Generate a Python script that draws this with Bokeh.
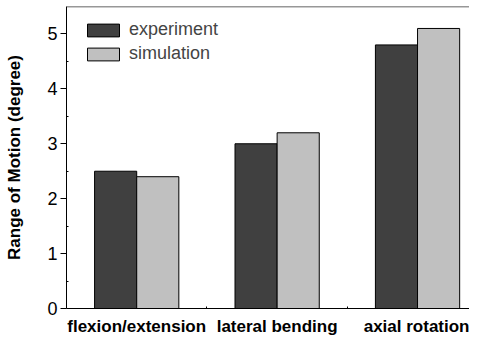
from bokeh.plotting import figure
from bokeh.models import FixedTicker, Span, Legend, LegendItem, ColumnDataSource, Range1d
from bokeh.embed import file_html
from bokeh.resources import INLINE

categories = ["flexion/extension", "lateral bending", "axial rotation"]
experiment = [2.5, 3.0, 4.8]
simulation = [2.4, 3.2, 5.1]
series_names = ["experiment", "simulation"]
y_ticks = [0, 1, 2, 3, 4, 5]

xpos = [i + 1 for i in range(len(categories))]
bw = 0.3

src = ColumnDataSource(dict(
    x_exp=[x - bw / 2 for x in xpos],
    x_sim=[x + bw / 2 for x in xpos],
    exp=experiment, sim=simulation))

p = figure(width=469, height=338, output_backend="svg", toolbar_location=None,
           x_range=Range1d(0.5, 3.37), y_range=Range1d(0, 5.5),
           min_border_left=66, min_border_right=0, min_border_top=6, min_border_bottom=0)
p.outline_line_color = None
p.grid.visible = False
p.background_fill_color = "white"
p.border_fill_color = "white"

r1 = p.vbar(x="x_exp", top="exp", width=bw, source=src, fill_color="#404040", line_color="black", line_width=1)
r2 = p.vbar(x="x_sim", top="sim", width=bw, source=src, fill_color="#c0c0c0", line_color="black", line_width=1)

p.add_layout(Span(location=5.5, dimension="width", line_color="#303030", line_width=1.5))

font = "Liberation Sans"
yax = p.yaxis[0]
yax.ticker = FixedTicker(ticks=y_ticks, minor_ticks=[0.5 + i for i in range(5)])
yax.major_tick_out = 6
yax.major_tick_in = 0
yax.minor_tick_in = 2
yax.minor_tick_out = 0
yax.major_label_standoff = 3
yax.major_label_text_font = font
yax.major_label_text_font_size = "18px"
yax.major_label_text_color = "black"
yax.axis_label = "Range of Motion (degree)"
yax.axis_label_text_font = font
yax.axis_label_text_font_style = "bold"
yax.axis_label_text_font_size = "17px"
yax.axis_label_standoff = 20
yax.axis_label_text_color = "black"
yax.axis_line_color = "black"
yax.major_tick_line_color = "black"
yax.minor_tick_line_color = "black"

xax = p.xaxis[0]
xax.ticker = FixedTicker(ticks=xpos, minor_ticks=[1.5, 2.5, 3.5])
xax.major_label_overrides = {x: c for x, c in zip(xpos, categories)}
xax.major_tick_out = 0
xax.major_tick_in = 0
xax.minor_tick_in = 2
xax.minor_tick_out = 0
xax.major_label_standoff = 8
xax.major_label_text_font = font
xax.major_label_text_font_style = "bold"
xax.major_label_text_font_size = "17px"
xax.major_label_text_color = "black"
xax.axis_line_color = "black"
xax.minor_tick_line_color = "black"

legend = Legend(items=[LegendItem(label=series_names[0], renderers=[r1]),
                       LegendItem(label=series_names[1], renderers=[r2])],
                location=(17, 244), margin=0, padding=0, spacing=3,
                glyph_width=40, glyph_height=16, label_height=16,
                label_standoff=6, label_text_font=font, label_text_font_size="18px",
                border_line_color=None, background_fill_alpha=0)
p.add_layout(legend)

open("out.html", "w").write(file_html(p, INLINE))
